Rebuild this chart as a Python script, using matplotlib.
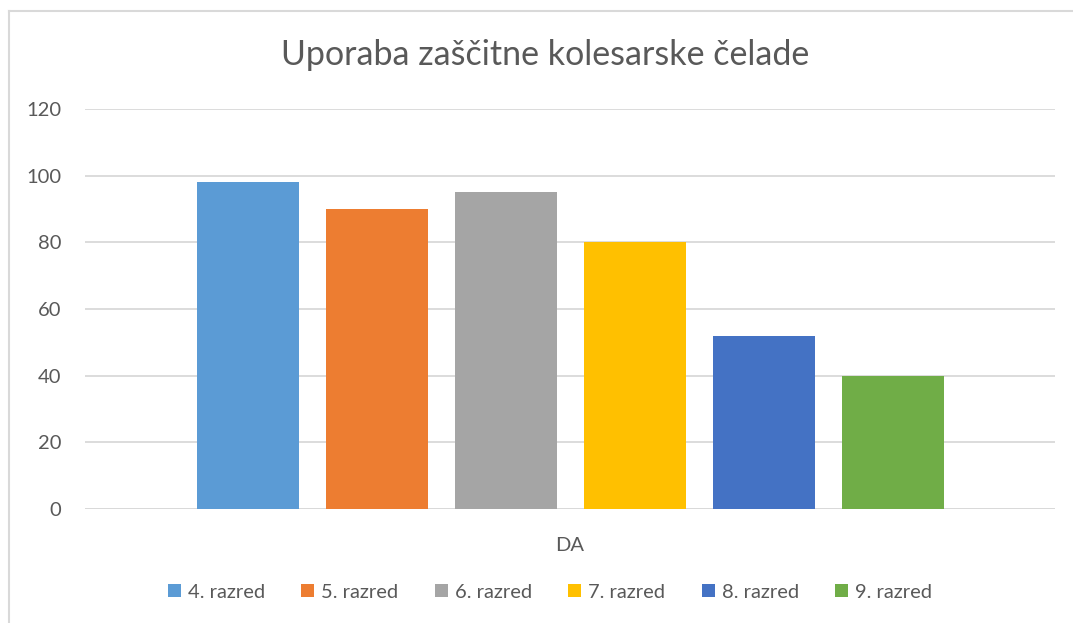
import numpy as np
import matplotlib
matplotlib.use("Agg")
import matplotlib.pyplot as plt
from matplotlib.lines import Line2D

# podatki
kategorija = "DA"
razredi = ["4. razred", "5. razred", "6. razred", "7. razred", "8. razred", "9. razred"]
vrednosti = [98, 90, 95, 80, 52, 40]
barve = ["#5B9BD5", "#ED7D31", "#A5A5A5", "#FFC000", "#4472C4", "#70AD47"]
y_ticks = [0, 20, 40, 60, 80, 100, 120]

siva = "#595959"
plt.rcParams['font.family'] = ['Lato', 'DejaVu Sans']

fig = plt.figure(figsize=(10.73, 6.23), dpi=100)
ax = fig.add_axes([85 / 1073, 114 / 623, 970 / 1073, 400 / 623])

# stolpci okoli sredine kategorije
sirina = 102 / 970
korak = 129 / 970
n = len(razredi)
for i, (r, v, b) in enumerate(zip(razredi, vrednosti, barve)):
    x = (i - (n - 1) / 2) * korak
    ax.bar(x, v, width=sirina, color=b, label=r, zorder=3)

ax.set_xlim(-0.5, 0.5)
ax.set_ylim(0, 120)
ax.set_yticks(y_ticks)
ax.set_xticks([0])
ax.set_xticklabels([kategorija])
ax.grid(axis='y', color="#D9D9D9", linewidth=1.3, zorder=0)
for s in ax.spines.values():
    s.set_visible(False)
ax.tick_params(axis='both', length=0, labelsize=14.5, colors=siva, pad=17)
ax.tick_params(axis='x', pad=20)
ax.axhline(0, color="#D9D9D9", linewidth=1.3, zorder=2)

fig.text(545 / 1073, 1 - 55 / 623, "Uporaba zaščitne kolesarske čelade",
         ha='center', va='center', fontsize=24.5, color=siva)

leg = fig.legend(loc='center', bbox_to_anchor=(550 / 1073, 1 - 592 / 623), ncol=6,
                 frameon=False, fontsize=14.5, handlelength=0.65, handleheight=0.65,
                 handletextpad=0.35, columnspacing=1.8, labelcolor=siva)

# rob okvirja (le levo in zgoraj)
fig.add_artist(Line2D([8.5 / 1073, 8.5 / 1073], [0, 1 - 10.5 / 623], color="#D9D9D9", linewidth=1.5))
fig.add_artist(Line2D([8.5 / 1073, 1], [1 - 10.5 / 623, 1 - 10.5 / 623], color="#D9D9D9", linewidth=1.5))

fig.savefig("out.png", dpi=100)
